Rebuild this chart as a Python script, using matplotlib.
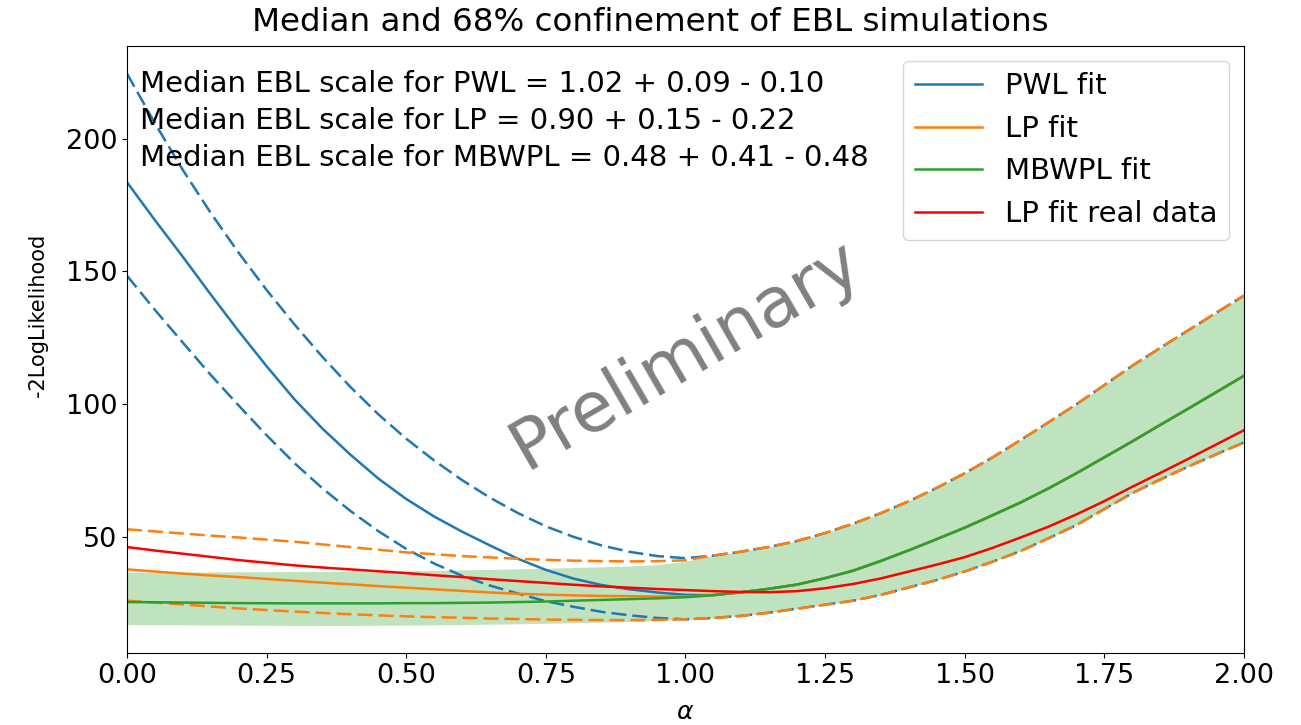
import numpy as np
import matplotlib.pyplot as plt

# alpha grid and curves
alpha = [0.0, 0.05, 0.1, 0.15, 0.2, 0.25, 0.3, 0.35, 0.4, 0.45, 0.5,
         0.55, 0.6, 0.65, 0.7, 0.75, 0.8, 0.85, 0.9, 0.95, 1.0,
         1.05, 1.1, 1.15, 1.2, 1.25, 1.3, 1.35, 1.4, 1.45, 1.5,
         1.55, 1.6, 1.65, 1.7, 1.75, 1.8, 1.85, 1.9, 1.95, 2.0]

# right part (alpha >= 1.05) where all three models coincide
med_right = [28.1, 29.2, 30.5, 32.1, 34.5, 37.3, 41.0, 45.0, 49.2, 53.5,
             58.2, 63.0, 68.3, 74.0, 80.0, 86.0, 92.2, 98.3, 104.5, 110.7]
hi_right = [43.0, 44.5, 46.3, 48.5, 51.5, 55.0, 59.0, 63.5, 68.5, 74.0,
            80.0, 86.5, 93.2, 100.0, 107.2, 114.5, 121.2, 127.8, 134.4, 140.9]
lo_right = [19.5, 20.3, 21.5, 23.0, 24.5, 26.0, 28.2, 31.0, 33.8, 37.0,
            40.7, 44.7, 49.5, 54.5, 60.5, 66.5, 71.6, 76.5, 81.1, 85.6]

pwl_med = [183.6, 169.3, 155.5, 141.3, 127.5, 114.3, 101.8, 90.8, 81.0, 72.0, 64.3,
           57.7, 52.0, 46.8, 41.8, 37.6, 34.3, 31.9, 30.3, 29.1, 28.2] + med_right
pwl_hi = [224.5, 205.8, 188.2, 172.0, 157.0, 143.0, 130.0, 117.8, 106.5, 96.2, 87.0,
          78.8, 71.4, 64.8, 59.0, 54.0, 50.0, 46.8, 44.4, 42.8, 42.0] + hi_right
pwl_lo = [148.4, 135.5, 123.2, 111.0, 99.5, 88.3, 77.8, 68.3, 59.8, 52.2, 45.5,
          40.0, 35.4, 31.7, 28.7, 25.8, 23.7, 21.8, 20.5, 19.5, 19.0] + lo_right

lp_med = [37.8, 37.0, 36.2, 35.5, 34.9, 34.2, 33.5, 32.8, 32.2, 31.5, 30.9,
          30.3, 29.7, 29.1, 28.6, 28.3, 28.0, 27.8, 27.7, 27.6, 27.6] + med_right
lp_hi = [52.9, 52.1, 51.3, 50.5, 49.8, 49.0, 48.2, 47.2, 46.2, 45.2, 44.2,
         43.5, 42.8, 42.3, 41.8, 41.4, 41.1, 40.9, 40.8, 40.9, 41.2] + hi_right
lp_lo = [26.0, 25.3, 24.6, 23.8, 23.1, 22.5, 21.9, 21.4, 20.9, 20.5, 20.1,
         19.8, 19.6, 19.3, 19.1, 18.9, 18.8, 18.7, 18.7, 18.8, 19.0] + lo_right

mbwpl_med = [25.5, 25.4, 25.3, 25.2, 25.1, 25.05, 25.0, 25.0, 25.0, 25.0, 25.1,
             25.1, 25.2, 25.3, 25.5, 25.7, 26.0, 26.3, 26.6, 26.9, 27.3] + med_right
mbwpl_hi = [36.8, 36.8, 36.8, 36.85, 36.9, 36.95, 37.0, 37.05, 37.1, 37.2, 37.3,
            37.45, 37.6, 37.8, 38.0, 38.2, 38.5, 38.8, 39.1, 39.6, 40.8] + hi_right
mbwpl_lo = [17.0, 16.95, 16.9, 16.85, 16.8, 16.75, 16.7, 16.7, 16.7, 16.75, 16.8,
            16.9, 17.0, 17.15, 17.3, 17.5, 17.7, 17.95, 18.2, 18.5, 18.9] + lo_right

real_lp = [46.2, 44.9, 43.7, 42.5, 41.3, 40.3, 39.3, 38.5, 37.8, 37.1, 36.4,
           35.6, 34.9, 34.1, 33.4, 32.7, 32.0, 31.4, 30.9, 30.4, 30.0,
           29.6, 29.3, 29.2, 29.6, 30.7, 32.3, 34.4, 37.0, 39.6, 42.4,
           45.9, 49.8, 53.9, 58.5, 63.5, 68.9, 74.1, 79.4, 84.8, 90.2]

scales = [("PWL", "1.02", "0.09", "0.10"),
          ("LP", "0.90", "0.15", "0.22"),
          ("MBWPL", "0.48", "0.41", "0.48")]

lw = 1.8
dash = (0, (6, 2.4))

fig = plt.figure(figsize=(13.01, 7.25), dpi=100)
ax = fig.add_axes([0.0976, 0.0993, 0.8586, 0.8373])

ax.plot(alpha, pwl_med, color="C0", lw=lw, label="PWL fit")
ax.plot(alpha, pwl_hi, color="C0", lw=lw, ls=dash)
ax.plot(alpha, pwl_lo, color="C0", lw=lw, ls=dash)

ax.plot(alpha, lp_med, color="C1", lw=lw, label="LP fit")
ax.plot(alpha, lp_hi, color="C1", lw=lw, ls=dash)
ax.plot(alpha, lp_lo, color="C1", lw=lw, ls=dash)

ax.plot(alpha, mbwpl_med, color="C2", lw=lw, label="MBWPL fit")
ax.fill_between(alpha, mbwpl_lo, mbwpl_hi, color="C2", alpha=0.3, lw=0)

ax.plot(alpha, real_lp, color="red", lw=lw, label="LP fit real data")

for i, (name, med, up, dn) in enumerate(scales):
    ax.text(0.0116, 0.961 - i * 0.061,
            "Median EBL scale for %s = %s + %s - %s" % (name, med, up, dn),
            transform=ax.transAxes, fontsize=21, va="top", ha="left")

ax.text(0.4996, 0.491, "Preliminary", transform=ax.transAxes, fontsize=50,
        color="gray", rotation=30, ha="center", va="center")

ax.set_xlim(0, 2)
fig.suptitle("Median and 68% confinement of EBL simulations", fontsize=23.4,
             y=0.99, va="top")
ax.set_xlabel(r"$\alpha$", fontsize=18, va="top")
ax.xaxis.set_label_coords(0.5, -0.077)
ax.set_ylabel("-2LogLikelihood", fontsize=15)
ax.yaxis.set_label_coords(-0.071, 0.557)
ax.tick_params(labelsize=19.5)
ax.legend(loc="upper right", fontsize=21, handlelength=2.3)

fig.savefig("out.png", dpi=100)
